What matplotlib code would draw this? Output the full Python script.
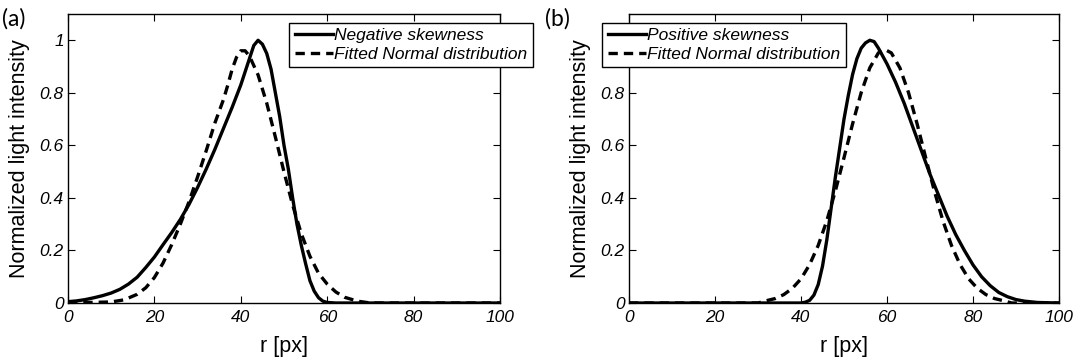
import matplotlib.pyplot as plt

# panel (a): negative skewness
xa_meas = [0, 2, 4, 6, 8, 10, 12, 14, 16, 18, 20, 22, 24, 26, 28, 30, 32, 34, 36, 38,
           40, 42, 43, 44, 45, 46, 47, 48, 49, 50, 51, 52, 53, 54, 55, 56, 57, 58, 59,
           60, 62, 100]
ya_meas = [0.005, 0.008, 0.013, 0.02, 0.028, 0.038, 0.052, 0.072, 0.098, 0.135, 0.175,
           0.222, 0.268, 0.318, 0.375, 0.44, 0.51, 0.585, 0.665, 0.745, 0.83, 0.93, 0.98,
           1.0, 0.985, 0.95, 0.89, 0.8, 0.71, 0.6, 0.51, 0.4, 0.3, 0.22, 0.15, 0.085,
           0.045, 0.02, 0.007, 0.002, 0.0, 0.0]
xa_fit = [0, 10, 13, 16, 18, 20, 22, 24, 26, 28, 30, 32, 34, 36, 37, 38, 39, 40, 41,
          42, 44, 46, 48, 50, 52, 54, 56, 58, 60, 62, 64, 67, 70, 100]
ya_fit = [0.0, 0.004, 0.012, 0.033, 0.058, 0.097, 0.152, 0.222, 0.3, 0.385, 0.48,
          0.58, 0.685, 0.775, 0.83, 0.89, 0.935, 0.96, 0.96, 0.94, 0.868, 0.761,
          0.632, 0.499, 0.373, 0.264, 0.178, 0.113, 0.072, 0.042, 0.022, 0.007, 0.0, 0.0]

# panel (b): positive skewness
xb_meas = [0, 40, 41, 42, 43, 44, 45, 46, 47, 48, 49, 50, 51, 52, 53, 54, 55, 56, 57,
           58, 59, 60, 62, 64, 66, 68, 70, 72, 74, 76, 78, 80, 82, 84, 86, 88, 90, 92,
           95, 100]
yb_meas = [0.0, 0.0, 0.003, 0.01, 0.03, 0.07, 0.14, 0.24, 0.36, 0.48, 0.59, 0.7, 0.79,
           0.87, 0.93, 0.97, 0.99, 1.0, 0.995, 0.97, 0.94, 0.91, 0.84, 0.76, 0.67, 0.58,
           0.49, 0.41, 0.33, 0.26, 0.2, 0.145, 0.1, 0.066, 0.04, 0.024, 0.013, 0.007,
           0.002, 0.0]
xb_fit = [0, 30, 32, 34, 36, 38, 40, 42, 44, 46, 48, 50, 52, 54, 56, 58, 59.5, 61, 63,
          65, 67, 69, 71, 73, 75, 77, 79, 81, 83, 85, 87, 89, 100]
yb_fit = [0.0, 0.0, 0.009, 0.017, 0.032, 0.056, 0.092, 0.146, 0.219, 0.313, 0.427,
          0.553, 0.682, 0.801, 0.895, 0.952, 0.965, 0.952, 0.895, 0.801, 0.682, 0.553,
          0.427, 0.313, 0.219, 0.146, 0.092, 0.056, 0.032, 0.017, 0.009, 0.0, 0.0]

xticks = [0, 20, 40, 60, 80, 100]
yticks = [0, 0.2, 0.4, 0.6, 0.8, 1.0]
ytick_labels = ['0', '0.2', '0.4', '0.6', '0.8', '1']

plt.rcParams['font.family'] = ['Liberation Sans', 'DejaVu Sans']

fig = plt.figure(figsize=(10.79, 3.6), dpi=100)
ax1 = fig.add_axes([68 / 1079, 57 / 360, 432 / 1079, 289 / 360])
ax2 = fig.add_axes([629 / 1079, 57 / 360, 430 / 1079, 289 / 360])

panels = [
    (ax1, xa_meas, ya_meas, xa_fit, ya_fit, 'Negative skewness', 'upper right', (1.076, 0.97), '(a)', 0.0),
    (ax2, xb_meas, yb_meas, xb_fit, yb_fit, 'Positive skewness', 'upper left', (-0.062, 0.97), '(b)', 543 / 1079),
]

for ax, xm, ym, xf, yf, name, loc, anchor, tag, tagx in panels:
    ax.plot(xm, ym, color='black', lw=2.4, label=name)
    ax.plot(xf, yf, color='black', lw=2.4, dashes=(2.8, 1.8), label='Fitted Normal distribution')
    ax.set_xlim(0, 100)
    ax.set_ylim(0, 1.1)
    ax.set_xticks(xticks)
    ax.set_yticks(yticks)
    ax.set_yticklabels(ytick_labels)
    ax.tick_params(direction='in', top=True, right=True, length=5, width=0.8,
                   labelsize=12.5)
    ax.tick_params(axis='x', pad=5)
    ax.tick_params(axis='y', pad=3)
    for lbl in ax.get_xticklabels() + ax.get_yticklabels():
        lbl.set_fontstyle('italic')
    for sp in ax.spines.values():
        sp.set_linewidth(1.0)
    ax.set_xlabel('r [px]', fontsize=15.5, labelpad=8)
    ax.set_ylabel('Normalized light intensity', fontsize=15.5, labelpad=7)
    leg = ax.legend(loc=loc, bbox_to_anchor=anchor, fancybox=False, framealpha=1,
                    edgecolor='black', prop={'style': 'italic', 'size': 12.5},
                    handlelength=2.2, handletextpad=0.1, borderpad=0.3,
                    labelspacing=0.2, borderaxespad=0)
    leg.get_frame().set_linewidth(1.0)
    fig.text(tagx + 0.002, 0.948, tag, fontsize=16.5, family=['Lato', 'DejaVu Sans'],
             va='center', ha='left')

fig.savefig('out.png', dpi=100)
